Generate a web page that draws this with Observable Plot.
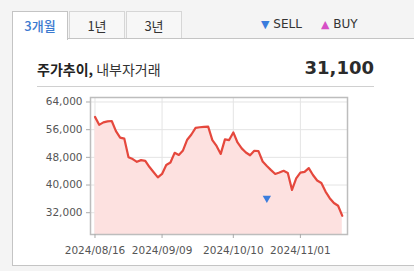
<!DOCTYPE html>
<html><head><meta charset="utf-8">
<script src="https://cdn.jsdelivr.net/npm/d3@7"></script>
<script src="https://cdn.jsdelivr.net/npm/@observablehq/plot@0.6"></script>
<style>
html,body{margin:0;padding:0;}
body{width:414px;height:271px;overflow:hidden;background:#f4f4f4;position:relative;font-family:"DejaVu Sans",sans-serif;}
.panel{position:absolute;left:12px;top:38px;width:430px;height:226px;background:#fff;border:1px solid #c4c4c4;}
.tab{position:absolute;top:11px;height:26px;width:54px;border:1px solid #d6d6d6;border-bottom:none;background:#f7f7f7;text-align:center;line-height:27px;font-family:"Noto Sans CJK KR",sans-serif;font-size:13px;color:#333;}
.tab.on{background:#fff;border-color:#c4c4c4;color:#3c7ad0;height:28px;z-index:2;font-weight:500;}
.legend{position:absolute;top:17px;font-size:12px;color:#333;}
.hdr{position:absolute;left:37px;top:60px;font-family:"Noto Sans CJK KR",sans-serif;font-size:14px;color:#333;line-height:18px;}
.hdr b{color:#222;}
.price{position:absolute;right:40px;top:57px;font-family:"DejaVu Sans",sans-serif;font-weight:bold;font-size:18px;color:#2b2b2b;}
.rule{position:absolute;left:37px;top:86px;width:337px;height:1px;background:#d0d0d0;}
#chart{position:absolute;left:0;top:85px;}
</style></head><body>
<div class="panel"></div>
<div class="tab on" style="left:12px">3개월</div>
<div class="tab" style="left:69px">1년</div>
<div class="tab" style="left:126px">3년</div>
<div class="legend" style="left:261px"><span style="color:#3b7ddd;font-size:11px">▼</span> SELL</div>
<div class="legend" style="left:321px"><span style="color:#d64fc6;font-size:11px">▲</span> BUY</div>
<div class="hdr"><b>주가추이,</b> 내부자거래</div>
<div class="price">31,100</div>
<div class="rule"></div>
<div id="chart"></div>
<script>
const dates = ["2024/08/16","2024/08/19","2024/08/20","2024/08/21","2024/08/22","2024/08/23","2024/08/26","2024/08/27","2024/08/28","2024/08/29",
"2024/08/30","2024/09/02","2024/09/03","2024/09/04","2024/09/05","2024/09/06","2024/09/09","2024/09/10","2024/09/11","2024/09/12",
"2024/09/13","2024/09/19","2024/09/20","2024/09/23","2024/09/24","2024/09/25","2024/09/26","2024/09/27","2024/09/30","2024/10/02",
"2024/10/04","2024/10/07","2024/10/08","2024/10/10","2024/10/11","2024/10/14","2024/10/15","2024/10/16","2024/10/17","2024/10/18",
"2024/10/21","2024/10/22","2024/10/23","2024/10/24","2024/10/25","2024/10/28","2024/10/29","2024/10/30","2024/10/31","2024/11/01",
"2024/11/04","2024/11/05","2024/11/06","2024/11/07","2024/11/08","2024/11/11","2024/11/12","2024/11/13","2024/11/14","2024/11/15"];
const prices = [59700,57400,58100,58400,58500,55600,53700,53400,48000,47500,
46700,47200,47000,45200,43700,42200,43200,45800,46500,49300,
48700,50000,53100,54600,56500,56700,56800,56900,53000,51300,
49000,53200,53000,55200,52300,50600,49400,48600,49900,49800,
46800,45500,44300,43200,43600,44100,43500,38600,41900,43600,
43800,44900,42900,41300,40600,38100,36200,34800,34000,31100];
const sellDates = ["2024/10/22"];
const sellMarks = [36200];
const yTicks = [32000,40000,48000,56000,64000];
const xTickDates = ["2024/08/16","2024/09/09","2024/10/10","2024/11/01"];

const rows = prices.map((v,i)=>({i, date:dates[i], v}));
const sells = sellDates.map((d,k)=>({i:dates.indexOf(d), v:sellMarks[k]}));
const yMin = 25700, yMax = 65300;

const chart = Plot.plot({
  width: 380, height: 180,
  marginLeft: 90, marginRight: 33, marginTop: 12, marginBottom: 31,
  style: {fontFamily: "DejaVu Sans, sans-serif", fontSize: "10.5px", color: "#555", background: "transparent"},
  x: {type: "linear", domain: [-1.07, 60.24], label: null},
  y: {domain: [yMin, yMax], label: null},
  marks: [
    Plot.gridY(yTicks, {stroke: "#e4e4e4", strokeOpacity: 1}),
    Plot.gridX(xTickDates.map(d=>dates.indexOf(d)), {stroke: "#e4e4e4", strokeOpacity: 1}),
    Plot.areaY(rows, {x: "i", y1: yMin, y2: "v", fill: "#fde1e0"}),
    Plot.lineY(rows, {x: "i", y: "v", stroke: "#e5483d", strokeWidth: 2.2}),
    Plot.dot(sells, {x: "i", y: "v", symbol: "triangle2", r: 4, fill: "#3b7ddd", rotate: 180}),
    Plot.frame({stroke: "#bdbdbd", strokeWidth: 1.5}),
    Plot.axisY({ticks: yTicks, tickFormat: d3.format(","), tickSize: 4, tickPadding: 4, stroke: "#aaa", fill: "#555", label: null}),
    Plot.axisX({ticks: xTickDates.map(d=>dates.indexOf(d)), tickFormat: i => dates[i], tickSize: 4, tickPadding: 8, stroke: "#aaa", fill: "#555", label: null})
  ]
});
document.getElementById("chart").appendChild(chart);
</script>
</body></html>
